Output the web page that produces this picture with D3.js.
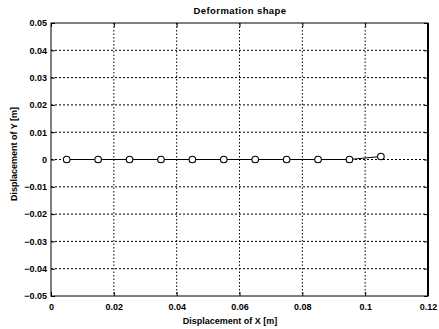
<!DOCTYPE html>
<html>
<head>
<meta charset="utf-8">
<script src="https://cdn.jsdelivr.net/npm/d3@7"></script>
<style>
  body { margin: 0; background: #fff; }
  text { font-family: "Liberation Sans", Arial, sans-serif; fill: #000; font-weight: bold; }
</style>
</head>
<body>
<svg width="439" height="329"></svg>
<script>
// node positions of the deformed beam
const xs = [0.005, 0.015, 0.025, 0.035, 0.045, 0.055, 0.065, 0.075, 0.085, 0.095, 0.105];
const ys = [0, 0, 0, 0, 0, 0, 0, 0, 0, 0, 0.0011];
const xTicks = [0, 0.02, 0.04, 0.06, 0.08, 0.1, 0.12];
const yTicks = [0.05, 0.04, 0.03, 0.02, 0.01, 0, -0.01, -0.02, -0.03, -0.04, -0.05];

const svg = d3.select('svg');
const mLeft = 51, mRight = 428, mTop = 23, mBottom = 296;

const x = d3.scaleLinear().domain([0, 0.12]).range([mLeft, mRight]);
const y = d3.scaleLinear().domain([-0.05, 0.05]).range([mBottom, mTop]);

// dotted grid
svg.append('g').selectAll('line')
  .data(xTicks.slice(1, -1))
  .enter().append('line')
  .attr('x1', d => x(d)).attr('x2', d => x(d))
  .attr('y1', mTop).attr('y2', mBottom)
  .attr('stroke', '#000').attr('stroke-width', 1)
  .attr('stroke-dasharray', '1.5,2');

svg.append('g').selectAll('line')
  .data(yTicks.slice(1, -1))
  .enter().append('line')
  .attr('x1', mLeft).attr('x2', mRight)
  .attr('y1', d => y(d)).attr('y2', d => y(d))
  .attr('stroke', '#000').attr('stroke-width', 1)
  .attr('stroke-dasharray', '2,2');

// axes, ticks on all four sides
const fmt = d => d === 0 ? '0' : d3.format('.2~f')(d);
const xAxis = svg.append('g')
  .attr('transform', `translate(0,${mBottom})`)
  .call(d3.axisBottom(x).tickValues(xTicks).tickFormat(fmt).tickSizeInner(-4).tickSizeOuter(0).tickPadding(8));
const yAxis = svg.append('g')
  .attr('transform', `translate(${mLeft},0)`)
  .call(d3.axisLeft(y).tickValues(yTicks).tickFormat(fmt).tickSizeInner(-4).tickSizeOuter(0).tickPadding(4));
const xTop = svg.append('g')
  .attr('transform', `translate(0,${mTop})`)
  .call(d3.axisTop(x).tickValues(xTicks).tickFormat('').tickSizeInner(-4).tickSizeOuter(0));
const yRight = svg.append('g')
  .attr('transform', `translate(${mRight},0)`)
  .call(d3.axisRight(y).tickValues(yTicks).tickFormat('').tickSizeInner(-4).tickSizeOuter(0));
[xAxis, yAxis, xTop, yRight].forEach(a => {
  a.select('.domain').remove();
  a.selectAll('text')
    .style('font-size', '9px')
    .style('font-weight', 'bold')
    .style('font-family', '"Liberation Sans", Arial, sans-serif');
  a.selectAll('line').attr('stroke', '#000');
});

// frame
svg.append('rect')
  .attr('x', mLeft).attr('y', mTop)
  .attr('width', mRight - mLeft).attr('height', mBottom - mTop)
  .attr('fill', 'none').attr('stroke', '#000').attr('stroke-width', 1);
svg.append('line')
  .attr('x1', mRight).attr('x2', mRight).attr('y1', mTop).attr('y2', mBottom)
  .attr('stroke', '#000').attr('stroke-width', 2);

// the line and markers
const pts = xs.map((d, i) => [d, ys[i]]);
svg.append('path')
  .datum(pts)
  .attr('fill', 'none').attr('stroke', '#000').attr('stroke-width', 1.2)
  .attr('d', d3.line().x(d => x(d[0])).y(d => y(d[1])));

svg.append('g').selectAll('circle')
  .data(pts)
  .enter().append('circle')
  .attr('cx', d => x(d[0])).attr('cy', d => y(d[1]))
  .attr('r', 3.3)
  .attr('fill', '#fff').attr('stroke', '#000').attr('stroke-width', 1.1);

// labels
svg.append('text')
  .attr('x', 240).attr('y', 14)
  .attr('text-anchor', 'middle').style('font-size', '9.5px')
  .style('letter-spacing', '0.4px')
  .text('Deformation shape');
svg.append('text')
  .attr('x', 230).attr('y', 324)
  .attr('text-anchor', 'middle').style('font-size', '9px')
  .text('Displacement of X [m]');
svg.append('text')
  .attr('transform', `translate(16.5,154) rotate(-90)`)
  .attr('text-anchor', 'middle').style('font-size', '9px')
  .text('Displacement of Y [m]');
</script>
</body>
</html>
